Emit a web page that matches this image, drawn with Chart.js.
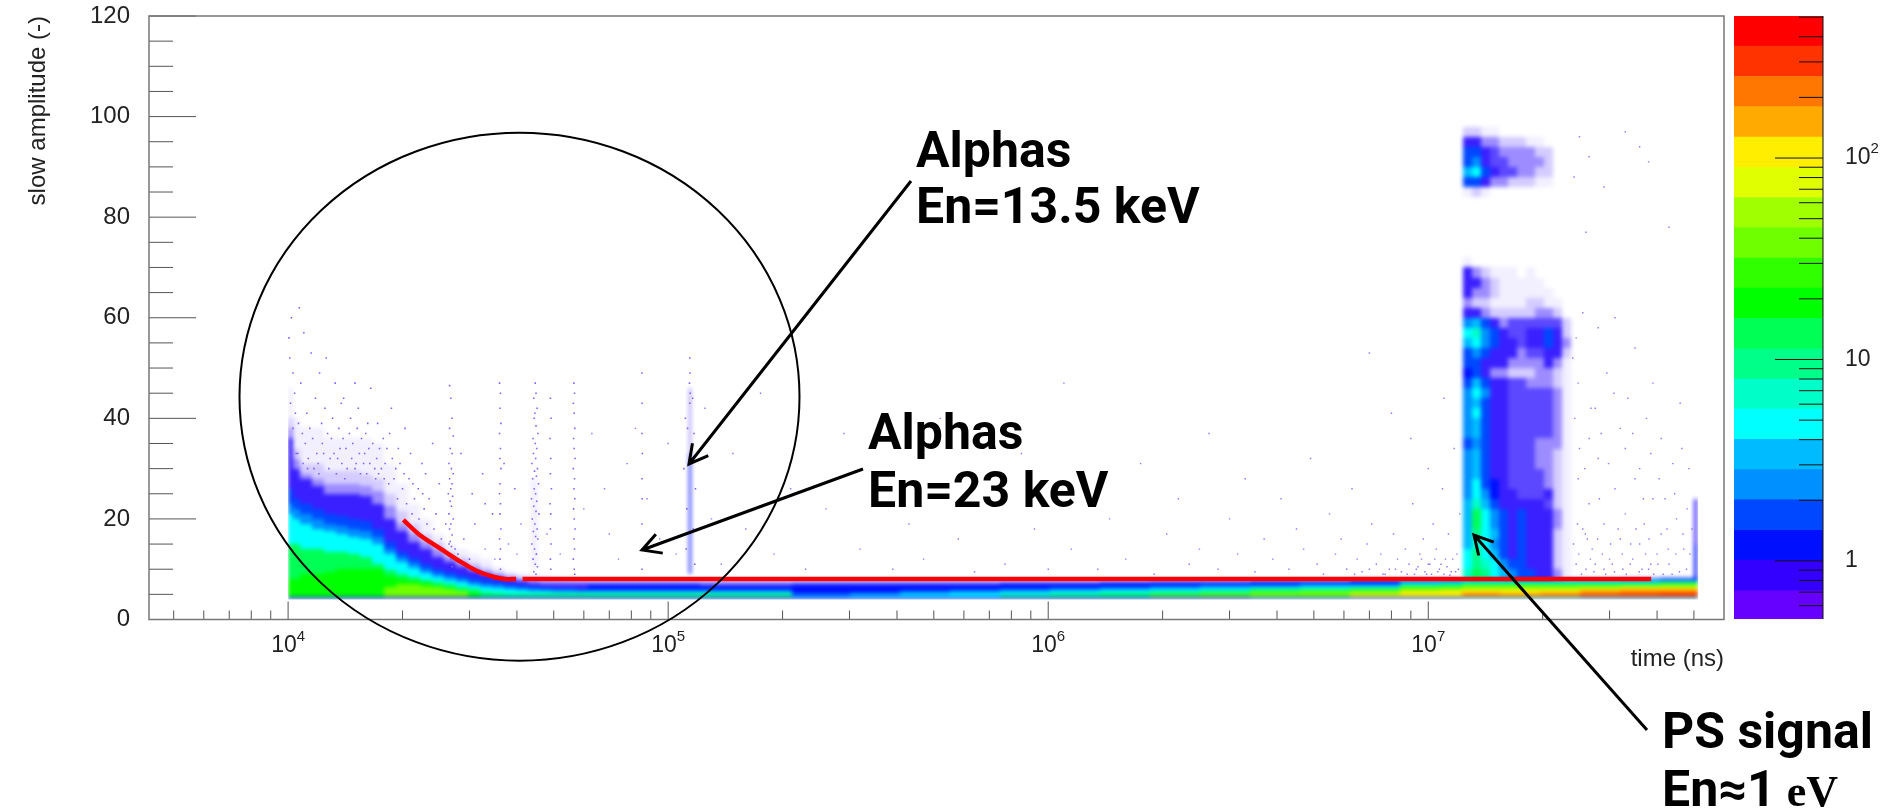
<!DOCTYPE html>
<html lang="en">
<head>
<meta charset="UTF-8">
<title>slow amplitude vs time</title>
<script src="https://cdn.jsdelivr.net/npm/chart.js"></script>
<style>
  html, body { margin: 0; padding: 0; background: #fff; }
  #plot, #palette { position: absolute; top: 0; }
  #plot { left: 0; }
  #palette { left: 1726px; pointer-events: none; }
</style>
</head>
<body>
<canvas id="plot" width="1888" height="810"></canvas>
<canvas id="palette" width="162" height="640"></canvas>
<script>
// colour legend, read from the palette on the right (bottom to top)
const bandColors = ['#6600ff','#3300ff','#0010ff','#0048ff','#0090ff','#00bbff','#00ffff','#00ffc8','#00ff88','#00ff55',
                    '#00ff00','#30ff00','#70ff00','#a0ff00','#e0ff00','#ffee00','#ffaa00','#ff7700','#ff3300','#ff0000'];
const bandEdges = [0.515,0.71,1.01,1.42,2.01,2.84,4.01,5.67,8,11.3,16,22.6,31.9,45.1,63.7,90,127,180,254,359,507];
const paletteTicks = [1,10,100];
const paletteMinor = [0.6,0.7,0.8,0.9,2,3,4,5,6,7,8,9,20,30,40,50,60,70,80,90,200,300,400,500];

// a/b/c/e/d are the speckled zones (how much of the area is hit), A-T are the palette bands
const tints = { a: '#f2efff', b: '#d4ccff', c: '#9c8cff', e: '#5c48ff', d: '#3a20ff' };
const bandKeys = 'ABCDEFGHIJKLMNOPQRST';

const xMajor = [10000,100000,1000000,10000000];
const xExponents = ['4','5','6','7'];
const xMinor = [5000,6000,7000,8000,9000,20000,30000,40000,50000,60000,70000,80000,90000,
                200000,300000,400000,500000,600000,700000,800000,900000,
                2000000,3000000,4000000,5000000,6000000,7000000,8000000,9000000,
                20000000,30000000,40000000,50000000];
const yMajor = [0,20,40,60,80,100,120];
const yMinor = [5,10,15,25,30,35,45,50,55,65,70,75,85,90,95,105,110,115];

// early decay: top of each density zone, per time column
const earlyTimes = [10000,10300,10754,11565,12437,13375,14384,15469,16636,17891,19240,20691,22252,23930,25735,27676,29763,32008,34422,37018,39810,42813,46042,49515,53250,57266,61585];
const earlyPale  = [46,40,38,38,36,36,36,36,35,31,27,23,20,17,15,14,13,12,10.5,9.6,9,8.8,8.6,8.4,8.2,8];
const earlyFaint = [40,34,31,31,29.5,29.5,29.5,29,28,25,21.5,19,17,15.5,13.5,12.5,11.5,10.5,9.6,9,8.6,8.4,8.2,8,7.9,7.8];
const earlyHalf  = [38,32,29,28,27,27,27,26.5,25.5,22.5,19,17,15.5,14,12.5,11.5,10.5,9.6,9,8.4,8,7.9,7.7,7.6,7.6,7.6];
const earlyBlue  = [36,30,28,26.5,25,25,25,24.5,23,20,17.5,15.5,14,12.5,11.5,10.5,9.6,9,8.5,8,7.6,7.3,7.1,7,7,7];
const earlyRoyal = [26,24,23,22,21,20.5,20,19.5,18,15.5,13.5,12.2,11,10,9.4,8.8,8.2,7.8,7.4,7.1,6.9,6.6,6.4,6.2,6.2,6.1];
const earlyAzure = [23,22,21,20,19,18.5,18,17.5,16.5,14,12.4,11.2,10,9.2,8.6,8.1,7.5,7.1,6.8,6.5,6.3,6,5.9,5.8,5.8,5.7];
const earlyCyan  = [21,20,19,18,17.5,17,16.5,16,15,13,11.5,10.2,9.2,8.4,7.8,7.4,6.8,6.5,6.2,6,5.8,5.6,5.6,5.5,5.5,5.5];
const earlyTeal  = [15,15,14,14,13.5,13.5,13,12.5,11,9.8,9,8.4,7.8,7.4,7,6.4,6,5.5,5.2,5,5,5,5,5,5,5];
const earlyGreen = [8,8,9,9,9.5,10,10,10,10,8.6,8,7.6,7.2,6.6,6.2,5.6,5.2,0,0,0,0,0,0,0,0,0];
const earlyLime  = [0,0,0,0,0,0,0,0,0,6.5,7,7,6.6,6.4,6,5.6,0,0,0,0,0,0,0,0,0,0];

// flat band along the bottom of the plot
const stripTimes = [61600,84400,121400,174700,212000,301000,408000,552000,748000,1012000,1370000,1855000,2510000,3400000,4600000,6230000,8440000,10750000,12290000,13700000,15470000,19710000,25100000,32000000,40800000,51300000];
const stripHalf   = [7.6,7.6,7.6,7.6,7.6,7.6,7.6,7.6,7.6,7.7,7.7,7.8,7.8,7.9,7.9,8,8,8,8,8,8,8,8,8.2,8.3];
const stripBlue   = [7,7,6.9,6.9,7,7,7,7.1,7.2,7.3,7.4,7.5,7.5,7.6,7.7,7.8,7.9,8,8,8,8,8,8,8.1,8.2];
const stripAzure  = [5.9,5.9,5.8,5.8,5,5.3,5.6,5.9,6.1,6.3,6.4,6.6,6.8,6.9,7,7.1,7.6,7.7,7.9,7.9,7.9,7.9,7.9,7.9,7.9];
const stripCyan   = [5.5,5.5,5.4,5.4,4.7,4.8,5,5.2,5.5,5.7,5.9,6.1,6.3,6.5,6.6,6.7,7.3,7.4,7.7,7.7,7.6,7.6,7.7,7.7,7.7];
const stripTeal   = [5,5,5,5,0,0,0,0,4.9,5.1,5.3,5.5,5.7,6,6.1,6.2,6.9,7,7.3,7.3,7.2,7.2,7.3,7.3,7.4];
const stripLime   = [0,0,0,0,0,0,0,0,0,0,0,4.9,5.1,5.4,5.6,5.9,6.4,6.5,6.8,6.8,6.8,6.8,6.9,6.9,7];
const stripYellow = [0,0,0,0,0,0,0,0,0,0,0,0,0,0,0,5,5.6,5.8,6,6,6,6.1,6.3,6.4,6.5];
const stripOrange = [0,0,0,0,0,0,0,0,0,0,0,0,0,0,0,0,0,0,5.2,5.3,5,5.3,5.6,5.8,5.9];
const stripRed    = [0,0,0,0,0,0,0,0,0,0,0,0,0,0,0,0,0,0,0,0,0,0,4.9,5.1,5.2];

// thin lower rim of the band
const rimTimes = [10000,3400000,12290000,51300000];
const rimKeys = 'CDF';

// proton burst region, one string per amplitude row (high to low)
const burstTimes = [12360000,13050000,13790000,14560000,15370000,16240000,17150000,18110000,19120000,20200000,21330000,22520000,23780000];
const burstAmps = [72,70,68,66,64,62,60,58,56,54,52,50,48,46,44,42,40,38,36,34,32,30,28,26,24,22,20,18,16,14,12,10,8];
const burstRows = [
  'a...........',
  'dcbaaa.a....',
  'ddcbaaaaa...',
  'dccbaaaaaa..',
  'cbbaaaabbaa.',
  'ddcbbbbbccb.',
  'EFDdceeeeeeb',
  'GHEDdeeddDdb',
  'FGEDddeddDdc',
  'DEDdddceeddb',
  'DDdddccccdca',
  'CDdccbbbccba',
  'DFDddeecccba',
  'EGEddeeeeeca',
  'EFDddeeeeeca',
  'EGDddeeeeeca',
  'EFDddeeeeeca',
  'EFDddeeeeeca',
  'DEDddeeeccca',
  'EFDddeeeccba',
  'EFDddeeeccba',
  'EFDddeeeecba',
  'EGDCdeeeecba',
  'EGECddeeedba',
  'FHFDdddddeba',
  'FJGEDdDdddca',
  'FJGEDdDdddca',
  'FIGFDdDdddba',
  'FHGEDdDdddba',
  'GIGFDdDdddba',
  'GIHGEDDdddba',
  'HJIGFEDDddca'
];
const echoAmps = [98,96,94,92,90,88,86,84];
const echoRows = [
  'bbaa........',
  'ddccbbbaa...',
  'DDdeccccbb..',
  'DEdeeccccb..',
  'FGDdeeccbb..',
  'DDdccbbbaa..',
  'aba.........'
];

// vertical streaks that are solid enough to read as a band
const streakStart = [43500,113500,113500,49900000,49900000];
const streakEnd   = [45500,115000,115000,50900000,50900000];
const streakLow   = [10,9,33,8,8];
const streakHigh  = [28,34,46,24,15];
const streakKeys  = 'aCcdC';

// single hits: [time, amplitude]
const sprayHits = [
  [10050,56],[10200,60],[10100,52],[10300,49],[10700,62],[11000,57],[10400,45],[10800,47],[11500,53],[12100,49],
  [12600,52],[13300,47],[14000,44],[11200,41],[11800,44],[12500,42],[13100,40],[13800,43],[14600,40],[15300,42],
  [16000,37],[17200,39],[17800,36],[15000,47],[16500,46],[18500,37],[19500,34],[21000,33],[22500,31],[24000,35],
  [10300,38],[10900,37],[11600,36],[12300,35],[13000,36],[13700,34],[14500,37],[15400,33],[16300,34],[17100,32],
  [10500,33],[11300,32],[12000,31],[12800,30],[13500,32],[14300,30],[15100,31],[16100,29],[17000,28],[18000,31],
  [19000,28],[20000,26],[21500,24],[22800,22],[24500,21],[26000,19],[27500,14],[29000,16],[31000,19],[33000,23],
  [18700,42],[20300,38],[23000,29],[25000,27],[28500,33],[30500,25],[32500,29],[34500,21],[37000,31],[39500,26],
  [10150,43],[10450,41],[10650,39],[11100,35],[11400,38],[11900,33],[12250,39],[12700,37],[13200,33],[13600,38],
  [13950,36],[14200,34],[14800,35],[15200,38],[15600,36],[15900,33],[16200,39],[16700,35],[17400,34],[17600,30],
  [18200,34],[18800,32],[19200,30],[19700,31],[20200,29],[20800,28],[21300,27],[22000,26],[22600,25],[23500,24],
  [10250,35],[10600,33],[10950,31],[11250,30],[11700,30],[12050,29],[12400,33],[12900,32],[13400,29],[13850,31],
  [14100,28],[14700,32],[15000,30],[15500,29],[15800,31],[16400,31],[16900,30],[17300,29],[17900,28],[18400,27],
  [19400,24],[20500,23],[21200,21],[22100,20],[23200,19],[24200,18],[25300,16],[26500,15],[28000,13],[30000,12]
];
const streakHits = [
  [26600,46.5],[26800,44],[27000,40],[26600,38],[27200,36.5],[26700,34],[27000,33],[26500,31],[26900,30],[27200,29],
  [26600,28],[27000,27],[26800,26],[26400,25],[27100,24.5],[26700,23.5],[26900,22.5],[26500,21],[27200,20],[26800,19],
  [26600,18],[27000,16.8],[26700,15.5],[26900,14.5],[26800,12],[27000,10.5],
  [36000,47],[36200,45],[36100,42],[36300,39],[36000,37],[36200,34],[36100,32],[36300,30],[36100,27],[36000,25],
  [36200,23],[36100,21],[36300,18],[36000,16],[36200,14],[36100,12],[36200,10],
  [44700,47],[44900,45],[44300,44],[45200,42],[44600,41],[44400,40],[44900,38.5],[45400,37],[44100,36],[44700,35],
  [45100,34],[44200,33],[44800,32],[43800,31],[45300,30],[44500,29.5],[45000,28.5],[44000,28],[45600,27],[44400,26],
  [44800,25],[43700,24],[45100,23.5],[44300,22.5],[44900,21.5],[45700,21],[43900,20],[44600,19],[45200,18],[44200,17.5],
  [44800,16.5],[45400,16],[43800,15],[44500,14],[45000,13],[44100,12],[44700,11],[45300,10.5],[44300,9.5],[44900,9],
  [49000,44],[49200,40],[48900,36],[49100,32],[49000,29],[49300,26],[48900,23],[49100,21],[49000,18],[49200,15],[49000,12],[49100,10],
  [56500,47],[56700,45],[56300,43],[56600,41],[56800,38],[56400,36],[56600,34],[56900,32],[56300,30],[56700,28],
  [56500,26],[56800,24],[56400,22],[56600,20],[56900,18],[56500,16],[56700,14],[56300,12],[56600,10],[56800,9],
  [85300,49],[85400,43],[85300,37],[85500,33],[85300,28],[85400,24],[85300,19],[85400,14],[85300,10],
  [114000,52],[114200,49],[113800,47],[114300,45],[114000,43],[111000,40],[117000,37],[110000,30],[118000,26],[112000,22],
  [116500,18],[111500,14],[117500,11],[116000,44],[112500,38]
];
const fieldHits = [
  [41000,19],[40000,13],[38000,15],[35000,12],[33000,14],[48000,17],[52000,13],[60000,22],[63000,37],[68000,26],
  [70000,17],[74000,12],[78000,31],[82000,38],[88000,24],[95000,16],[100000,35],[105000,13],[125000,42],[130000,20],
  [138000,11],[148000,33],[160000,18],[175000,45],[190000,13],[210000,26],[230000,10],[260000,22],[290000,37],[320000,14],
  [350000,28],[390000,10],[430000,19],[470000,12],[520000,40],[580000,16],[640000,9.5],[700000,24],[770000,11],[850000,33],
  [920000,18],[1000000,10],[1100000,47],[1150000,14],[1250000,26],[1350000,10],[1450000,20],[1600000,12],[1750000,31],[1900000,9],
  [2050000,17],[2200000,24],[2350000,11],[2500000,14],[2650000,37],[2800000,10],[3000000,20],[3150000,13],[3300000,28],[3500000,9.5],
  [3700000,16],[3900000,12],[4100000,24],[4300000,10],[4500000,18],[4700000,14],[4900000,32],[5100000,11],[5300000,9],[5500000,21],
  [5700000,13],[5900000,16],[6100000,10],[6300000,26],[6500000,12],[6700000,9.5],[6900000,15],[7100000,19],[7300000,11],[7500000,13],
  [7700000,9],[7900000,10],[8100000,17],[8300000,12],[8500000,9.5],[8700000,14],[8900000,11],[9100000,23],[9300000,10],[9500000,13],
  [9700000,16],[9900000,9],[10100000,11],[10300000,19],[10500000,14],[10700000,10],[10900000,26],[11100000,12],[11300000,17],[11500000,9.5],
  [11700000,34],[11900000,13],[12100000,21],[8000000,41],[9000000,36],[10000000,30],[11000000,44],[7000000,53],
  [9200000,9],[9400000,10.5],[9600000,12],[9800000,9.5],[10000000,11],[10200000,9],[10400000,12],[10600000,9.5],[10800000,11],[11000000,9],
  [11200000,10.5],[11400000,8.8],[11600000,12],[11800000,9.5],[12000000,10],[8800000,9],[8200000,10],[7600000,9],[7000000,10],[6400000,9],
  [24500000,56],[25500000,61],[24800000,47],[26500000,36],[27500000,42],[28000000,58],[29500000,49],[31000000,60],[32000000,38],
  [33500000,44],[35000000,54],[36000000,30],[37500000,40],[39000000,47],[41000000,36],[42000000,24],[44000000,31],[46000000,43],[48000000,22],
  [24800000,28],[25500000,18],[26500000,23],[27000000,14],[28000000,32],[29000000,19],[30000000,12],[31000000,26],[32000000,16],[33000000,21],
  [34000000,11],[35000000,28],[36000000,15],[37000000,19],[38000000,10],[39000000,24],[40000000,13],[41000000,17],[43000000,11],[45000000,20],
  [47000000,14],[24500000,11],[26000000,10],[27500000,11],[29000000,10],[30500000,11],[32500000,10],[34500000,12],[36500000,10],[38500000,11],
  [25000000,34],[25800000,30],[26800000,42],[28500000,37],[29800000,31],[30800000,45],[33000000,34],[34500000,37],[36800000,24],[38500000,33],
  [40500000,28],[42500000,18],[44500000,25],[46500000,34],[48500000,30],[24300000,40],[24000000,52],[24700000,19],[26200000,16],[28200000,24],
  [24100000,15],[24900000,13],[25300000,9],[25900000,17],[26700000,12],[27300000,9.5],[27900000,16],[28700000,13],[29300000,9],[30200000,15],
  [30900000,9.5],[31600000,18],[32400000,13],[33200000,9],[34100000,15],[35200000,18],[35900000,9.5],[37300000,13],[38100000,16],[39200000,9],
  [40200000,11],[41500000,9],[42800000,14],[43800000,9],[44800000,13],[45800000,9.5],[46800000,17],[47800000,10],[48800000,13],[49400000,18],
  [24200000,88],[25000000,96],[26500000,92],[29000000,86],[33000000,97],[36000000,94],[38000000,91],[26000000,77],[43000000,78]
];

// red guide line, drawn in two parts with a small gap
const guideTimes = [20100,22200,25100,28400,31400,34700,37200,39800];
const guideAmps  = [19.8,16.8,14.15,11.5,9.64,8.5,8.05,8.05];
const flatTimes  = [41400,38600000];
const flatAmps   = [8.05,8.05];

function fillStyleFor(key) {
  return tints[key] || bandColors[bandKeys.indexOf(key)];
}

// column layers: everything from the band floor up to the top value
function columnCells(times, tops, key) {
  const cells = [];
  tops.forEach((top, i) => {
    if (top > 0) cells.push({ x: times[i], x2: times[i + 1], y: 4.3, y2: top, c: fillStyleFor(key) });
  });
  return cells;
}

function rowCells(times, amps, rows) {
  const cells = [];
  rows.forEach((row, r) => {
    for (let i = 0; i < row.length; i++) {
      if (row[i] === '.') continue;
      cells.push({ x: times[i], x2: times[i + 1], y: amps[r + 1], y2: amps[r], c: fillStyleFor(row[i]) });
    }
  });
  return cells;
}

const cells = [].concat(
  columnCells(earlyTimes, earlyPale, 'a'),
  columnCells(earlyTimes, earlyFaint, 'b'),
  columnCells(earlyTimes, earlyHalf, 'c'),
  columnCells(earlyTimes, earlyBlue, 'd'),
  columnCells(earlyTimes, earlyRoyal, 'D'),
  columnCells(earlyTimes, earlyAzure, 'E'),
  columnCells(earlyTimes, earlyCyan, 'G'),
  columnCells(earlyTimes, earlyTeal, 'J'),
  columnCells(earlyTimes, earlyGreen, 'K'),
  columnCells(earlyTimes, earlyLime, 'M'),
  columnCells(stripTimes, stripHalf, 'c'),
  columnCells(stripTimes, stripBlue, 'C'),
  columnCells(stripTimes, stripAzure, 'E'),
  columnCells(stripTimes, stripCyan, 'G'),
  columnCells(stripTimes, stripTeal, 'J'),
  columnCells(stripTimes, stripLime, 'M'),
  columnCells(stripTimes, stripYellow, 'P'),
  columnCells(stripTimes, stripOrange, 'R'),
  columnCells(stripTimes, stripRed, 'S'),
  rowCells(burstTimes, burstAmps, burstRows),
  rowCells(burstTimes, echoAmps, echoRows)
);
streakStart.forEach((t, i) => {
  cells.push({ x: t, x2: streakEnd[i], y: streakLow[i], y2: streakHigh[i], c: fillStyleFor(streakKeys[i]) });
});
for (let i = 0; i < rimKeys.length; i++) {
  cells.push({ x: rimTimes[i], x2: rimTimes[i + 1], y: 4, y2: 4.4, c: fillStyleFor(rimKeys[i]) });
}

// draws the histogram cells of the first dataset through the chart scales on a scratch canvas,
// then softens the whole picture once, clipped to the filled range so the outer edge stays sharp
const cellPlugin = {
  id: 'cells',
  beforeDatasetsDraw(chart) {
    const { ctx, width, height, scales: { x, y } } = chart;
    const scratch = document.createElement('canvas');
    scratch.width = width;
    scratch.height = height;
    const sc = scratch.getContext('2d');
    chart.data.datasets[0].data.forEach(d => {
      const x0 = Math.round(x.getPixelForValue(d.x)), x1 = Math.round(x.getPixelForValue(d.x2));
      const y0 = Math.round(y.getPixelForValue(d.y2)), y1 = Math.round(y.getPixelForValue(d.y));
      sc.fillStyle = d.c;
      sc.fillRect(x0, y0, x1 - x0, y1 - y0);
    });
    ctx.save();
    ctx.beginPath();
    ctx.rect(x.getPixelForValue(10000), y.getPixelForValue(120), x.getPixelForValue(51300000) - x.getPixelForValue(10000), y.getPixelForValue(4) - y.getPixelForValue(120));
    ctx.clip();
    ctx.filter = 'blur(2px)';
    ctx.drawImage(scratch, 0, 0);
    ctx.restore();
  }
};

function drawPower(ctx, text, x, y, size, align) {
  const base = text[0];
  const exp = text[1];
  ctx.font = size + 'px "Liberation Sans"';
  const w = ctx.measureText(base).width;
  ctx.font = Math.round(size * 0.64) + 'px "Liberation Sans"';
  const w2 = exp ? ctx.measureText(exp).width : 0;
  const x0 = align === 'center' ? x - (w + w2) / 2 : x;
  ctx.textAlign = 'left';
  ctx.textBaseline = 'middle';
  ctx.font = size + 'px "Liberation Sans"';
  ctx.fillText(base, x0, y);
  if (exp) {
    ctx.font = Math.round(size * 0.64) + 'px "Liberation Sans"';
    ctx.fillText(exp, x0 + w, y - size * 0.38);
  }
}

// ROOT style ticks, pointing into the frame
const frameTicks = {
  id: 'frameTicks',
  afterDraw(chart) {
    const { ctx, chartArea: a, scales: { x, y } } = chart;
    ctx.save();
    ctx.strokeStyle = '#555';
    ctx.lineWidth = 1;
    ctx.beginPath();
    xMajor.forEach(v => { const p = x.getPixelForValue(v); ctx.moveTo(p, a.bottom); ctx.lineTo(p, a.bottom - 18); });
    xMinor.forEach(v => { const p = x.getPixelForValue(v); ctx.moveTo(p, a.bottom); ctx.lineTo(p, a.bottom - 9); });
    yMajor.forEach(v => { const p = y.getPixelForValue(v); ctx.moveTo(a.left, p); ctx.lineTo(a.left + 47, p); });
    yMinor.forEach(v => { const p = y.getPixelForValue(v); ctx.moveTo(a.left, p); ctx.lineTo(a.left + 24, p); });
    ctx.stroke();
    ctx.strokeStyle = '#777';
    ctx.lineWidth = 1.5;
    ctx.strokeRect(a.left, a.top, a.right - a.left, a.bottom - a.top);
    ctx.fillStyle = '#222';
    xMajor.forEach((v, i) => drawPower(ctx, ['10', xExponents[i]], x.getPixelForValue(v), a.bottom + 26, 23, 'center'));
    ctx.restore();
  }
};

// hand drawn overlay on the figure: circle, arrows, labels
const arrows = [
  [911,181,689,464],
  [863,469,642,550],
  [1647,730,1474,535]
];
const notes = [
  { text: 'Alphas', x: 916, y: 154 },
  { text: 'En=13.5 keV', x: 916, y: 210 },
  { text: 'Alphas', x: 868, y: 436 },
  { text: 'En=23 keV', x: 868, y: 494 },
  { text: 'PS signal', x: 1662, y: 735 },
  { text: 'En≈1', x: 1662, y: 793 }
];
const overlay = {
  id: 'overlay',
  afterDraw(chart) {
    const ctx = chart.ctx;
    ctx.save();
    ctx.strokeStyle = '#000';
    ctx.fillStyle = '#000';
    ctx.lineWidth = 2;
    ctx.beginPath();
    ctx.ellipse(519.5, 396.7, 280, 264, 0, 0, Math.PI * 2);
    ctx.stroke();
    ctx.lineWidth = 3;
    arrows.forEach(([x0, y0, x1, y1]) => {
      const ang = Math.atan2(y0 - y1, x0 - x1);
      ctx.beginPath();
      ctx.moveTo(x0, y0);
      ctx.lineTo(x1, y1);
      ctx.moveTo(x1 + 21 * Math.cos(ang - 0.5), y1 + 21 * Math.sin(ang - 0.5));
      ctx.lineTo(x1, y1);
      ctx.lineTo(x1 + 21 * Math.cos(ang + 0.5), y1 + 21 * Math.sin(ang + 0.5));
      ctx.stroke();
    });
    ctx.textBaseline = 'middle';
    ctx.textAlign = 'left';
    ctx.font = 'bold 50px Roboto';
    notes.forEach(n => ctx.fillText(n.text, n.x, n.y));
    const w = ctx.measureText('En≈1').width;
    ctx.font = 'bold 44px "Liberation Serif"';
    ctx.fillText(' eV', 1662 + w, 795);
    ctx.restore();
  }
};

new Chart(document.getElementById('plot'), {
  type: 'scatter',
  data: {
    datasets: [
      { label: 'cells', data: cells, pointRadius: 0, showLine: false, parsing: false, normalized: true },
      { label: 'spray', data: sprayHits.concat(streakHits).map(h => ({ x: h[0], y: h[1] })), pointStyle: 'rect', pointRadius: 1.1,
        backgroundColor: '#7a62ff', borderWidth: 0 },
      { label: 'field', data: fieldHits.map(h => ({ x: h[0], y: h[1] })), pointStyle: 'rect', pointRadius: 1,
        backgroundColor: '#8a78ff', borderWidth: 0 },
      { label: 'guide', data: guideTimes.map((t, i) => ({ x: t, y: guideAmps[i] })), showLine: true, pointRadius: 0,
        borderColor: '#ff0000', borderWidth: 4.5, tension: 0.3 },
      { label: 'flat', data: flatTimes.map((t, i) => ({ x: t, y: flatAmps[i] })), showLine: true, pointRadius: 0,
        borderColor: '#ff0000', borderWidth: 4.5 }
    ]
  },
  options: {
    responsive: false,
    animation: false,
    events: [],
    layout: { padding: { top: 16, right: 164, left: 0, bottom: 0 } },
    plugins: { legend: { display: false }, tooltip: { enabled: false } },
    scales: {
      x: {
        type: 'logarithmic',
        min: 4305,
        max: 60000000,
        afterFit: s => { s.height = 190.5; s.paddingLeft = 0; s.paddingRight = 0; },
        afterBuildTicks: s => { s.ticks = xMajor.map(v => ({ value: v })); },
        grid: { display: false },
        border: { display: false },
        ticks: { display: false },
        title: {
          display: true,
          text: 'time (ns)',
          align: 'end',
          color: '#222',
          font: { family: '"Liberation Sans"', size: 24 },
          padding: { top: 0, bottom: 136 }
        }
      },
      y: {
        min: 0,
        max: 120,
        afterFit: s => { s.width = 149; s.paddingTop = 0; s.paddingBottom = 0; },
        afterBuildTicks: s => { s.ticks = yMajor.map(v => ({ value: v })); },
        grid: { display: false },
        border: { display: false },
        ticks: {
          padding: 11,
          color: '#222',
          font: { family: '"Liberation Sans"', size: 24 }
        },
        title: {
          display: true,
          text: 'slow amplitude (-)',
          align: 'end',
          color: '#222',
          font: { family: '"Liberation Sans"', size: 24 },
          padding: { top: 24, bottom: 0 }
        }
      }
    }
  },
  plugins: [cellPlugin, frameTicks, overlay]
});

// palette ticks go inside the colour bar, from its right edge
const paletteFrame = {
  id: 'paletteFrame',
  afterDraw(chart) {
    const { ctx, chartArea: a, scales: { y } } = chart;
    ctx.save();
    ctx.strokeStyle = '#111';
    ctx.lineWidth = 1;
    ctx.beginPath();
    paletteTicks.forEach(v => { const p = y.getPixelForValue(v); ctx.moveTo(a.right, p); ctx.lineTo(a.right - 48, p); });
    paletteMinor.forEach(v => { const p = y.getPixelForValue(v); ctx.moveTo(a.right, p); ctx.lineTo(a.right - 24, p); });
    ctx.moveTo(a.right, a.top);
    ctx.lineTo(a.right, a.bottom);
    ctx.stroke();
    ctx.fillStyle = '#222';
    drawPower(ctx, ['1'], a.right + 22, y.getPixelForValue(1), 23, 'left');
    drawPower(ctx, ['10'], a.right + 22, y.getPixelForValue(10), 23, 'left');
    drawPower(ctx, ['10', '2'], a.right + 22, y.getPixelForValue(100), 23, 'left');
    ctx.restore();
  }
};

new Chart(document.getElementById('palette'), {
  type: 'bar',
  data: {
    labels: ['z'],
    datasets: bandColors.map((color, i) => ({
      data: [[bandEdges[i], bandEdges[i + 1]]],
      backgroundColor: color,
      barPercentage: 1,
      categoryPercentage: 1,
      grouped: false
    }))
  },
  options: {
    responsive: false,
    animation: false,
    events: [],
    layout: { padding: { top: 16, left: 8, right: 0, bottom: 21 } },
    plugins: { legend: { display: false }, tooltip: { enabled: false } },
    scales: {
      x: { display: false },
      y: {
        type: 'logarithmic',
        position: 'right',
        min: 0.515,
        max: 507,
        afterFit: s => { s.width = 65; s.paddingTop = 0; s.paddingBottom = 0; },
        afterBuildTicks: s => { s.ticks = paletteTicks.map(v => ({ value: v })); },
        grid: { display: false },
        border: { display: false },
        ticks: { display: false }
      }
    }
  },
  plugins: [paletteFrame]
});
</script>
</body>
</html>
